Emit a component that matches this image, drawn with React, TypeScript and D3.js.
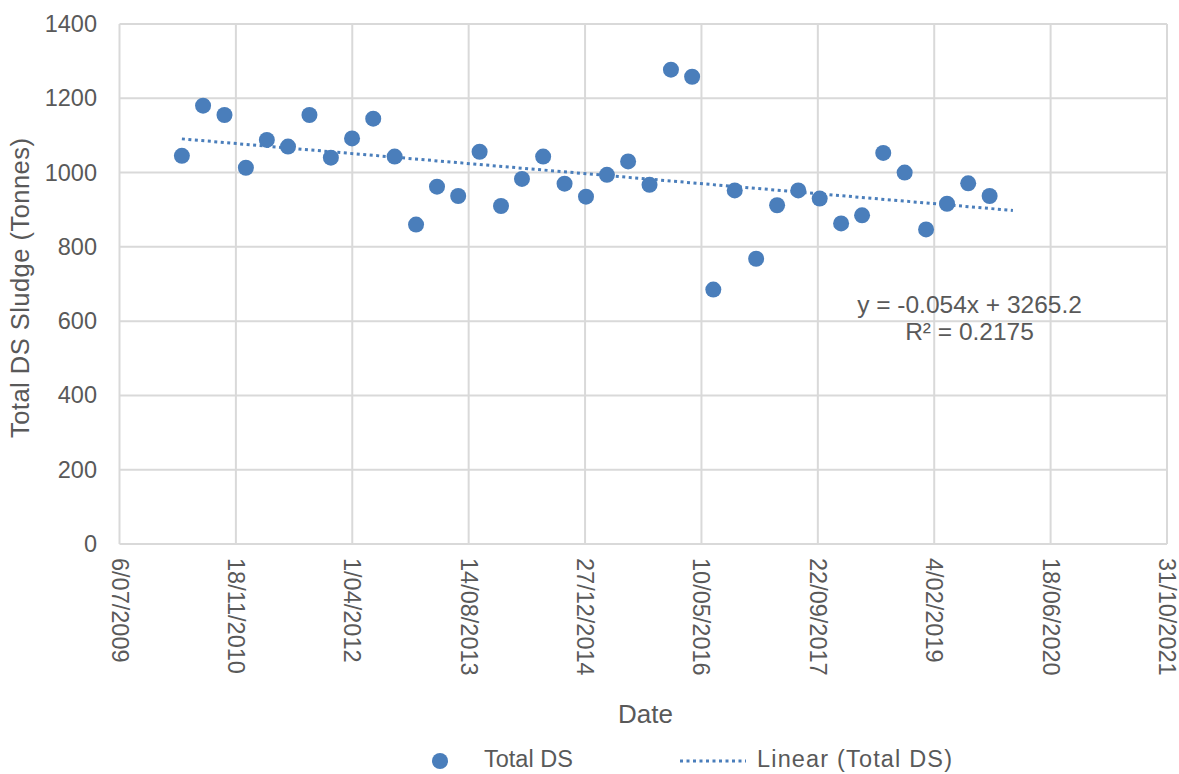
import React from "react";
import * as d3 from "d3";

// ---- Data ----
const dates: string[] = [
  "2010-03-31","2010-06-30","2010-09-30","2010-12-31",
  "2011-03-31","2011-06-30","2011-09-30","2011-12-31",
  "2012-03-31","2012-06-30","2012-09-30","2012-12-31",
  "2013-03-31","2013-06-30","2013-09-30","2013-12-31",
  "2014-03-31","2014-06-30","2014-09-30","2014-12-31",
  "2015-03-31","2015-06-30","2015-09-30","2015-12-31",
  "2016-03-31","2016-06-30","2016-09-30","2016-12-31",
  "2017-03-31","2017-06-30","2017-09-30","2017-12-31",
  "2018-03-31","2018-06-30","2018-09-30","2018-12-31",
  "2019-03-31","2019-06-30","2019-09-30",
];
const totalDS: number[] = [
  1045, 1180, 1155, 1013,
  1088, 1070, 1155, 1040,
  1092, 1145, 1043, 860,
  962, 937, 1056, 910,
  983, 1043, 970, 935,
  994, 1030, 967, 1277,
  1258, 685, 952, 768,
  912, 952, 930, 863,
  885, 1053, 1000, 847,
  916, 971, 937,
];
const yTicks: number[] = [0, 200, 400, 600, 800, 1000, 1200, 1400];
const xTickSerials: number[] = [40000, 40500, 41000, 41500, 42000, 42500, 43000, 43500, 44000, 44500];
const trendSlope = -0.054;
const trendIntercept = 3265.2;
const trendR2 = 0.2175;
const trendForwardDays = 100;

// Excel serial helpers
const EXCEL_EPOCH = Date.UTC(1899, 11, 30);
const DAY = 86400000;
const toSerial = (s: string) => (Date.parse(s + "T00:00:00Z") - EXCEL_EPOCH) / DAY;
const serialToDate = (n: number) => new Date(EXCEL_EPOCH + n * DAY);
const fmt = d3.utcFormat("%-d/%m/%Y");

const W = 1179, H = 774;
const left = 119.5, right = 1167, top = 24, bottom = 544;
const FONT = "'Liberation Sans', Arial, sans-serif";
const TEXT = "#595959";
const GRID = "#d9d9d9";
const BLUE = "#4a7ebb";

export default function App() {
  const x = d3.scaleLinear().domain([40000, 44500]).range([left, right]);
  const y = d3.scaleLinear().domain([0, 1400]).range([bottom, top]);
  const serials = dates.map(toSerial);
  const tStart = serials[0];
  const tEnd = serials[serials.length - 1] + trendForwardDays;
  const trend = d3.line<number>().x((d) => x(d)).y((d) => y(trendSlope * d + trendIntercept));

  return (
    <svg width={W} height={H} style={{ position: "absolute", left: 0, top: 0, background: "#fff" }} fontFamily={FONT}>
      <rect x={0} y={0} width={W} height={H} fill="#fff" />
      {/* grid */}
      {yTicks.map((t) => (
        <line key={"gy" + t} x1={left} x2={right} y1={y(t)} y2={y(t)} stroke={GRID} strokeWidth={2} />
      ))}
      {xTickSerials.map((t) => (
        <line key={"gx" + t} x1={x(t)} x2={x(t)} y1={top} y2={bottom} stroke={GRID} strokeWidth={2} />
      ))}
      {/* y tick labels */}
      {yTicks.map((t) => (
        <text key={"ty" + t} x={97} y={y(t)} textAnchor="end" dominantBaseline="central" fontSize={23.5} fill={TEXT}>
          {t}
        </text>
      ))}
      {/* x tick labels rotated */}
      {xTickSerials.map((t) => (
        <text
          key={"tx" + t}
          transform={`translate(${x(t)},558) rotate(90)`}
          textAnchor="start"
          dominantBaseline="central"
          fontSize={23.5}
          fill={TEXT}
        >
          {fmt(serialToDate(t))}
        </text>
      ))}
      {/* trendline */}
      <path
        d={trend([tStart, tEnd]) || ""}
        fill="none"
        stroke={BLUE}
        strokeWidth={3}
        strokeDasharray="3,3.5"
      />
      {/* points */}
      {serials.map((s, i) => (
        <circle key={"p" + i} cx={x(s)} cy={y(totalDS[i])} r={8} fill={BLUE} />
      ))}
      {/* equation */}
      <text x={969.5} y={313} textAnchor="middle" fontSize={24.5} fill={TEXT}>
        {`y = ${trendSlope}x + ${trendIntercept}`}
      </text>
      <text x={969.5} y={340} textAnchor="middle" fontSize={24.5} fill={TEXT}>
        {`R² = ${trendR2}`}
      </text>
      {/* axis titles */}
      <text
        transform={`translate(29,288) rotate(-90)`}
        textAnchor="middle"
        fontSize={25.5}
        fill={TEXT}
        textLength={300}
        lengthAdjust="spacing"
      >
        Total DS Sludge (Tonnes)
      </text>
      <text x={645.5} y={723} textAnchor="middle" fontSize={26} fill={TEXT}>
        Date
      </text>
      {/* legend */}
      <circle cx={440} cy={761} r={8} fill={BLUE} />
      <text x={484} y={767} fontSize={23.5} fill={TEXT}>Total DS</text>
      <line x1={680} x2={746} y1={761} y2={761} stroke={BLUE} strokeWidth={3} strokeDasharray="3,3.5" />
      <text x={757} y={767} fontSize={23.5} fill={TEXT} textLength={195} lengthAdjust="spacing">Linear (Total DS)</text>
    </svg>
  );
}
